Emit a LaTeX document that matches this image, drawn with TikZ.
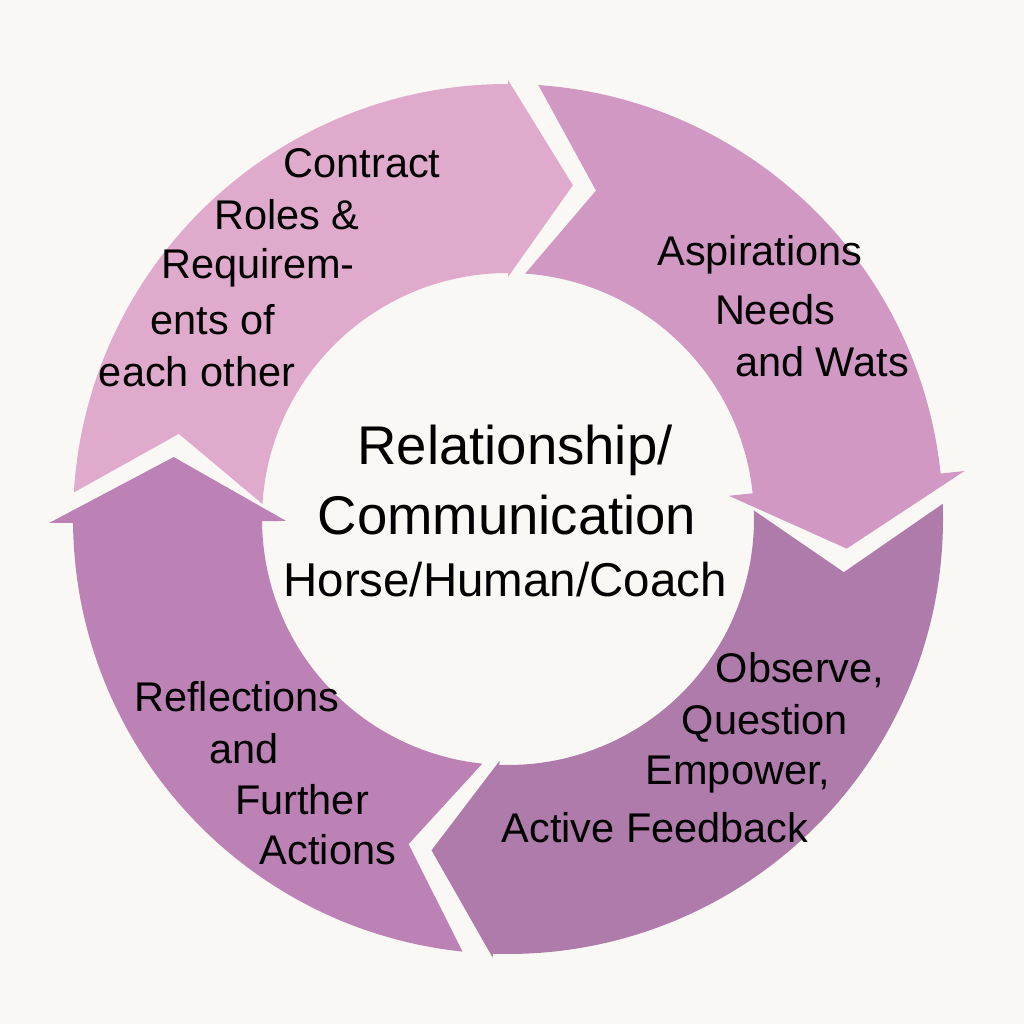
\documentclass[tikz,border=0pt]{standalone}
\usepackage{fontspec}
\setmainfont{Liberation Sans}
\definecolor{cA}{RGB}{224,170,204}
\definecolor{cB}{RGB}{209,152,196}
\definecolor{cC}{RGB}{174,123,170}
\definecolor{cD}{RGB}{189,130,181}
\definecolor{bg}{RGB}{250,248,245}
\begin{document}
\begin{tikzpicture}[x=0.01cm,y=0.01cm,
  seglbl/.style={font=\fontsize{11.8}{13}\selectfont,inner sep=0pt,anchor=center},
  ctr/.style={font=\fontsize{15.5}{17}\selectfont,inner sep=0pt}]
\fill[bg] (0,0) rectangle (1024,1024);
\useasboundingbox (0,0) rectangle (1024,1024);
\def\Ro{435}\def\Ri{246}\def\Rm{340}\def\h{11}\def\g{4}
\newcommand{\arrowseg}[4]{%
  \pgfmathsetmacro{\t}{#1+\h-\g}%
  \pgfmathsetmacro{\n}{#1-\g}%
  \pgfmathsetmacro{\b}{#2+\h}%
  \fill[#3] (\t:\Ro) arc[start angle=\t,end angle=\b,radius=\Ro]
    -- (\b:\Ro+#4) -- (#2:\Rm) -- (\b:\Ri-#4) -- (\b:\Ri)
    arc[start angle=\b,end angle=\t,radius=\Ri] -- (\n:\Rm) -- cycle;}
\begin{scope}[shift={(508,505)}]
\arrowseg{169.5}{79}{cA}{4}
\arrowseg{439}{355}{cB}{24}
\arrowseg{355}{257}{cC}{4}
\arrowseg{257}{169.5}{cD}{24}
\end{scope}
\node[seglbl] (a1) at (362,861) {Contract};
\node[seglbl] (a2) at (287,809) {Roles \&};
\node[seglbl] (a3) at (258,756) {Requirem-};
\node[seglbl] (a4) at (213,704) {ents of};
\node[seglbl] (a5) at (197,652) {each other};
\node[seglbl] (b1) at (760,769) {Aspirations};
\node[seglbl] (b2) at (775,714) {Needs};
\node[seglbl] (b3) at (822,662) {and Wats};
\node[seglbl] (c1) at (800,354) {Observe,};
\node[seglbl] (c2) at (765,301) {Question};
\node[seglbl] (c3) at (738,249) {Empower,};
\node[seglbl] (c4) at (655,196) {Active Feedback};
\node[seglbl] (d1) at (237,327) {Reflections};
\node[seglbl] (d2) at (244,275) {and};
\node[seglbl] (d3) at (302,224) {Further};
\node[seglbl] (d4) at (328,174) {Actions};
\node[ctr] (m1) at (515,574) {Relationship/};
\node[ctr] (m2) at (507,509) {Communication};
\node[ctr,font=\fontsize{13.5}{15}\selectfont] (m3) at (505,444) {Horse/Human/Coach};
\end{tikzpicture}
\end{document}
